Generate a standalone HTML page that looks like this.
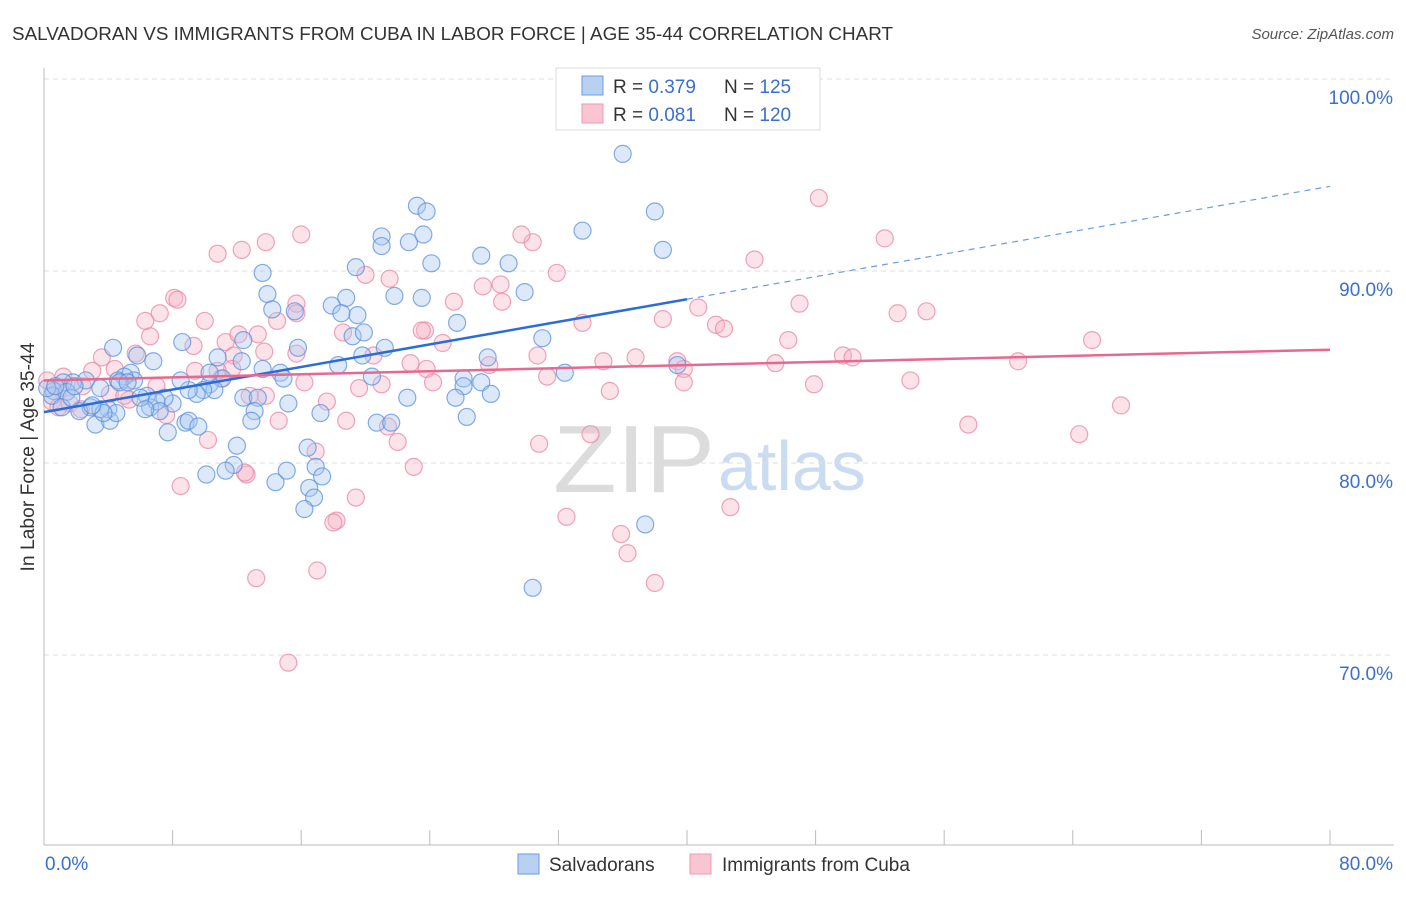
<!DOCTYPE html>
<html><head><meta charset="utf-8"><style>
body{margin:0;background:#fff;font-family:"Liberation Sans",sans-serif;}
svg text{font-family:"Liberation Sans",sans-serif;}
</style></head><body>
<svg id="chart" width="1406" height="892">
<text x="12" y="40" font-size="18" fill="#333" textLength="881" lengthAdjust="spacingAndGlyphs">SALVADORAN VS IMMIGRANTS FROM CUBA IN LABOR FORCE | AGE 35-44 CORRELATION CHART</text>
<text x="1394" y="39" font-size="15" fill="#555" font-style="italic" text-anchor="end">Source: ZipAtlas.com</text>
<text x="553" y="492" font-size="96" fill="#dcdcdc" font-family="Liberation Serif" textLength="162" lengthAdjust="spacingAndGlyphs">ZIP</text>
<text x="718" y="490" font-size="70" fill="#c9dcf1">atlas</text>
<text transform="translate(34,457) rotate(-90)" font-size="19" fill="#333" text-anchor="middle" textLength="229" lengthAdjust="spacingAndGlyphs">In Labor Force | Age 35-44</text>
<g id="grid"></g><g id="pts"></g><g id="trend"></g>
<g>
<rect x="556" y="68" width="264" height="62" fill="#fff" stroke="#ddd"/>
<rect x="582" y="76" width="21" height="19" fill="#b8d1f3" stroke="#6a9ce0"/>
<rect x="582" y="104" width="21" height="19" fill="#f9c5d3" stroke="#ee9ab2"/>
<text x="613" y="93" font-size="19" fill="#333">R = <tspan fill="#3a6fd0">0.379</tspan></text>
<text x="724" y="93" font-size="19" fill="#333">N = <tspan fill="#3a6fd0">125</tspan></text>
<text x="613" y="121" font-size="19" fill="#333">R = <tspan fill="#3a6fd0">0.081</tspan></text>
<text x="724" y="121" font-size="19" fill="#333">N = <tspan fill="#3a6fd0">120</tspan></text>
</g>
<g>
<rect x="518" y="854" width="21" height="20" fill="#b8d1f3" stroke="#6a9ce0"/>
<text x="549" y="871" font-size="19" fill="#333">Salvadorans</text>
<rect x="690" y="854" width="21" height="20" fill="#f9c5d3" stroke="#ee9ab2"/>
<text x="722" y="871" font-size="19" fill="#333">Immigrants from Cuba</text>
</g>
</svg>
<script>
const blueX=[36.0,38.0,38.5,33.5,23.2,23.8,23.6,22.7,21.0,21.0,24.1,27.2,28.9,29.9,31.0,19.4,18.8,17.9,19.5,18.5,21.8,23.5,25.7,19.2,19.9,13.6,13.9,14.2,15.6,21.2,19.8,18.3,20.4,22.6,26.1,26.1,25.6,27.2,27.6,27.8,26.3,32.4,39.4,17.2,20.7,21.6,15.8,14.7,14.9,12.4,12.3,10.8,8.6,6.8,5.8,4.3,11.1,12.4,13.3,13.1,12.9,15.2,10.3,10.6,9.9,9.5,9.0,8.5,8.0,7.5,6.4,6.6,7.0,7.2,7.7,8.8,9.0,9.6,5.4,5.6,5.0,4.6,3.5,2.6,1.8,1.2,0.6,0.5,0.2,1.4,2.9,2.2,3.2,4.0,4.1,4.5,12.0,11.8,11.3,10.1,14.4,15.1,16.4,16.9,17.3,16.5,16.8,16.2,30.4,37.4,3.5,3.7,1.1,1.7,4.7,6.0,6.3,0.7,1.9,3.0,5.2,10.3,13.6];
const blueY=[96.1,93.1,91.1,92.1,93.4,93.1,91.9,91.5,91.8,91.3,90.4,90.8,90.4,88.9,86.5,90.2,88.6,88.2,87.7,87.8,88.7,88.6,87.3,86.6,86.8,89.9,88.8,88.0,87.9,86.0,85.6,85.1,84.5,83.4,84.4,84.0,83.4,84.2,85.5,83.6,82.4,84.7,85.1,82.6,82.1,82.1,86.0,84.7,84.4,86.4,85.3,85.5,86.3,85.3,85.6,86.0,84.4,83.4,83.4,82.7,82.2,83.1,84.1,83.8,83.8,83.6,83.8,84.3,83.1,83.4,83.5,82.9,83.2,82.7,81.6,82.1,82.2,81.9,84.7,84.3,84.5,84.3,83.9,84.3,84.2,84.2,83.75,83.5,83.9,83.7,82.9,82.7,82.0,82.8,82.2,82.6,80.9,79.9,79.6,79.4,79.0,79.6,80.8,79.8,79.3,78.7,78.2,77.6,73.5,76.8,82.8,82.6,82.9,83.4,84.2,83.4,82.8,84.0,84.0,83.0,84.2,84.7,84.9];
const pinkX=[48.2,52.3,44.2,47.0,53.1,54.9,65.2,60.6,67.0,57.5,64.4,53.9,49.7,50.3,46.3,45.5,47.9,41.8,42.3,40.7,38.5,39.4,39.8,39.8,42.7,38.0,36.3,35.9,34.0,32.5,30.8,35.2,34.8,36.8,33.5,31.9,30.4,29.7,28.4,27.3,28.5,25.5,24.8,23.7,23.5,22.8,23.8,24.2,27.7,30.7,31.3,23.0,22.0,21.4,21.5,20.0,18.6,20.5,21.0,19.6,17.6,18.8,19.4,18.2,18.0,16.9,17.0,15.2,13.2,12.6,8.5,10.2,13.3,13.7,14.5,15.7,15.7,16.0,13.8,12.3,10.8,8.1,8.3,7.2,10.0,9.3,11.3,12.1,11.8,6.6,6.3,5.7,3.6,3.0,1.2,1.0,0.2,0.5,0.9,2.4,4.4,7.0,5.3,11.0,11.7,10.8,9.4,7.6,13.8,12.5,14.6,12.8,4.1,5.0,1.6,2.3,15.7,16.2];
const pinkY=[93.8,91.7,90.6,88.3,87.8,87.9,86.4,85.3,83.0,82.0,81.5,84.3,85.6,85.5,86.4,85.2,84.1,87.2,87.0,88.1,87.5,85.3,84.9,84.2,77.7,73.75,75.3,76.3,81.5,77.2,81.0,83.75,85.3,85.5,87.3,89.9,91.5,91.9,89.3,89.2,88.4,88.4,86.25,86.9,86.9,85.2,84.9,84.2,85.1,85.6,84.5,79.8,81.1,81.9,89.6,89.8,86.8,85.6,84.1,83.9,83.2,82.2,78.2,77.0,76.9,80.6,74.4,69.6,74.0,79.4,78.8,81.2,86.7,85.8,87.4,88.3,87.8,91.9,91.5,91.1,90.9,88.6,88.5,87.8,87.4,86.1,86.3,86.7,85.6,86.6,87.4,85.7,85.5,84.8,84.5,83.9,84.3,83.2,82.9,84.0,84.9,84.0,83.3,84.4,84.9,84.8,84.8,82.5,83.5,79.5,82.2,83.5,83.6,83.5,83.1,82.8,85.7,84.2];
const blueTrend=[82.65,0.147];   // intercept, slope
const pinkTrend=[84.3,0.02];
const yTicks=[100,90,80,70];
const xTickVals=[0,8,16,24,32,40,48,56,64,72,80];

const NS='http://www.w3.org/2000/svg';
const xs=v=>44+v*16.075, ys=v=>79+(100-v)*19.2;
function mk(tag,attrs,parent){const e=document.createElementNS(NS,tag);for(const k in attrs)e.setAttribute(k,attrs[k]);parent.appendChild(e);return e;}
const grid=document.getElementById('grid');
yTicks.forEach(t=>{
 const l=mk('line',{x1:44,x2:1394,y1:ys(t),y2:ys(t),stroke:'#ddd','stroke-dasharray':'5,4'},grid);
 
 
 const tx=mk('text',{x:1393,y:ys(t)+25,'font-size':19,fill:'#3a6fd0','text-anchor':'end'},grid);
 tx.textContent=t.toFixed(1)+'%';
 
 
});
const ax=mk('line',{x1:44,x2:44,y1:68,y2:845,stroke:'#bbb'},grid);


const bx=mk('line',{x1:44,x2:1394,y1:845,y2:845,stroke:'#bbb'},grid);


xTickVals.forEach(t=>{
 const l=mk('line',{x1:xs(t),x2:xs(t),y1:830,y2:845,stroke:'#bbb'},grid);
 
 
});
const x0=mk('text',{x:45,y:870,'font-size':19,fill:'#3a6fd0'},grid);x0.textContent='0.0%';


const x1=mk('text',{x:1393,y:870,'font-size':19,fill:'#3a6fd0','text-anchor':'end'},grid);x1.textContent='80.0%';



const pts=document.getElementById('pts');
function draw(X,Y,fill,stroke,name){
 X.forEach((v,i)=>{
  const c=mk('circle',{cx:xs(v),cy:ys(Y[i]),r:8.5,fill:fill,'fill-opacity':0.4,stroke:stroke,'stroke-opacity':0.75,'stroke-width':1.2},pts);
  
  
 });
}
draw(pinkX,pinkY,'#f7b6c9','#ea86a3','cuba-point');
draw(blueX,blueY,'#a9c8f1','#5b90dd','salvadoran-point');

const tr=document.getElementById('trend');
const bl=mk('line',{x1:xs(0),y1:ys(blueTrend[0]),x2:xs(40),y2:ys(blueTrend[0]+blueTrend[1]*40),stroke:'#2a6dd6','stroke-width':2.5},tr);


const bd=mk('line',{x1:xs(40),y1:ys(blueTrend[0]+blueTrend[1]*40),x2:xs(80),y2:ys(blueTrend[0]+blueTrend[1]*80),stroke:'#6a9ce0','stroke-width':1.2,'stroke-dasharray':'6,5'},tr);


const pl=mk('line',{x1:xs(0),y1:ys(pinkTrend[0]),x2:xs(80),y2:ys(pinkTrend[0]+pinkTrend[1]*80),stroke:'#e8688f','stroke-width':2.5},tr);


</script>
</body></html>
